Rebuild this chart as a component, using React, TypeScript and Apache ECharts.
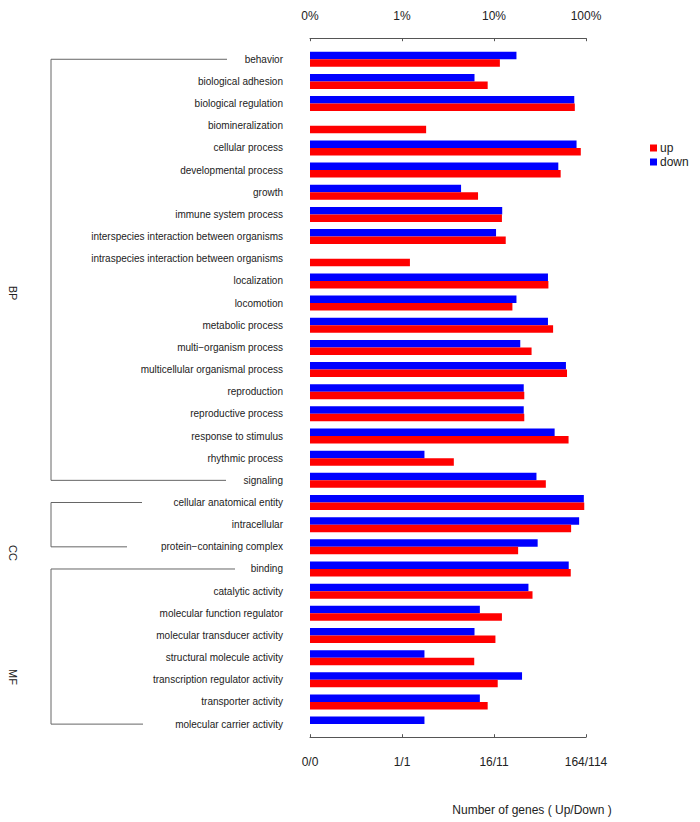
import React, { useEffect, useRef } from "react";
import * as echarts from "echarts";

const categories = [
  "behavior",
  "biological adhesion",
  "biological regulation",
  "biomineralization",
  "cellular process",
  "developmental process",
  "growth",
  "immune system process",
  "interspecies interaction between organisms",
  "intraspecies interaction between organisms",
  "localization",
  "locomotion",
  "metabolic process",
  "multi\u2212organism process",
  "multicellular organismal process",
  "reproduction",
  "reproductive process",
  "response to stimulus",
  "rhythmic process",
  "signaling",
  "cellular anatomical entity",
  "intracellular",
  "protein\u2212containing complex",
  "binding",
  "catalytic activity",
  "molecular function regulator",
  "molecular transducer activity",
  "structural molecule activity",
  "transcription regulator activity",
  "transporter activity",
  "molecular carrier activity",
];

const upTotal = 164;
const downTotal = 114;

const upCounts = [19, 14, 124, 3, 144, 87, 11, 20, 22, 2, 64, 26, 72, 42, 102, 35, 35, 106, 6, 60, 157, 113, 30, 112, 43, 20, 17, 10, 18, 14, 0];
const downCounts = [20, 7, 85, 0, 90, 57, 5, 14, 12, 0, 44, 20, 44, 22, 69, 24, 24, 52, 2, 33, 108, 96, 34, 74, 27, 8, 7, 2, 23, 8, 2];

const pctTicks = ["0%", "1%", "10%", "100%"];
const countTicks = ["0/0", "1/1", "16/11", "164/114"];

const groupNames = ["BP", "CC", "MF"];
const groupSizes = [20, 3, 8];

// log scale: 0 on axis = 0.1%, 1 = 1%, 2 = 10%, 3 = 100%
const toLog = (count: number, total: number) =>
  count > 0 ? Math.log10((count / total) * 100) + 1 : null;

export default function App() {
  const ref = useRef<HTMLDivElement>(null);
  useEffect(() => {
    if (!ref.current) return;
    const chart = echarts.init(ref.current, undefined, { renderer: "svg" });
    const font = "'Liberation Sans', Arial, Helvetica, sans-serif";
    const axisColor = "#555";
    const textColor = "#222";
    const option: any = {
      animation: false,
      textStyle: { fontFamily: font },
      legend: {
        data: ["up", "down"],
        orient: "vertical",
        left: 645,
        top: 137,
        itemWidth: 7,
        itemHeight: 7,
        itemGap: 2,
        icon: "rect",
        selectedMode: false,
        textStyle: { fontSize: 12, color: textColor, fontFamily: font, padding: [0, 0, 0, -2] },
      },
      grid: { left: 310, top: 48.2, width: 276, height: 687 },
      xAxis: [
        {
          type: "value",
          position: "top",
          min: 0,
          max: 3,
          interval: 1,
          offset: 10,
          axisLine: { show: true, lineStyle: { color: axisColor } },
          axisTick: { show: true, inside: true, length: 3, lineStyle: { color: axisColor } },
          splitLine: { show: false },
          axisLabel: {
            formatter: (v: number) => pctTicks[Math.round(v)],
            fontSize: 12,
            color: textColor,
            margin: 16,
            fontFamily: font,
          },
        },
        {
          type: "value",
          position: "bottom",
          min: 0,
          max: 3,
          interval: 1,
          offset: 2,
          axisLine: { show: true, lineStyle: { color: axisColor } },
          axisTick: { show: true, inside: true, length: 3, lineStyle: { color: axisColor } },
          splitLine: { show: false },
          axisLabel: {
            formatter: (v: number) => countTicks[Math.round(v)],
            fontSize: 12,
            color: textColor,
            margin: 19,
            fontFamily: font,
          },
        },
      ],
      yAxis: {
        type: "category",
        inverse: true,
        data: categories,
        axisLine: { show: false },
        axisTick: { show: false },
        axisLabel: { fontSize: 10, color: textColor, margin: 27, fontFamily: font },
      },
      series: [
        {
          name: "down",
          type: "bar",
          xAxisIndex: 0,
          data: downCounts.map((c) => toLog(c, downTotal)),
          barWidth: 7.5,
          barGap: "0%",
          itemStyle: { color: "#0000ff" },
        },
        {
          name: "up",
          type: "bar",
          xAxisIndex: 0,
          data: upCounts.map((c) => toLog(c, upTotal)),
          barWidth: 7.5,
          barGap: "0%",
          itemStyle: { color: "#ff0000" },
        },
      ],
    };
    chart.setOption(option);

    // brackets for groups
    const bracketEnds = [
      [227, 226],
      [142, 127],
      [235, 143],
    ];
    const groupLabelY = [293, 553, 677];
    const graphics: any[] = [];
    let start = 0;
    groupNames.forEach((g, gi) => {
      const first = categories[start];
      const last = categories[start + groupSizes[gi] - 1];
      const y1 = chart.convertToPixel({ yAxisIndex: 0 }, first) as number;
      const y2 = chart.convertToPixel({ yAxisIndex: 0 }, last) as number;
      const vx = 51;
      graphics.push({
        type: "polyline",
        shape: {
          points: [
            [bracketEnds[gi][0], y1],
            [vx, y1],
            [vx, y2],
            [bracketEnds[gi][1], y2],
          ],
        },
        style: { stroke: "#666", lineWidth: 1, fill: null },
      });
      graphics.push({
        type: "text",
        x: 13,
        y: groupLabelY[gi],
        rotation: -Math.PI / 2,
        style: {
          text: g,
          fontSize: 11,
          fill: textColor,
          fontFamily: font,
          textAlign: "center",
          textVerticalAlign: "middle",
        },
      });
      start += groupSizes[gi];
    });
    graphics.push({
      type: "text",
      x: 532,
      y: 810,
      style: {
        text: "Number of genes ( Up/Down )",
        fontSize: 12,
        fill: textColor,
        fontFamily: font,
        textAlign: "center",
        textVerticalAlign: "middle",
      },
    });
    chart.setOption({ graphic: graphics });

    return () => chart.dispose();
  }, []);
  return (
    <div
      ref={ref}
      style={{ position: "fixed", left: 0, top: 0, width: 700, height: 822, background: "#fff" }}
    />
  );
}
